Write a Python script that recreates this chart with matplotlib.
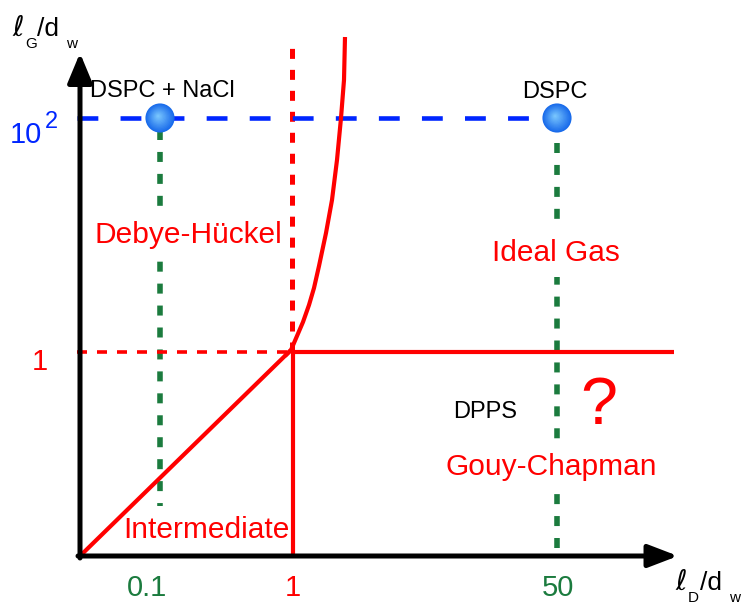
import numpy as np
import matplotlib
matplotlib.use("Agg")
import matplotlib.pyplot as plt

plt.rcParams['font.family'] = ['Liberation Sans', 'DejaVu Sans']
plt.rcParams['mathtext.fontset'] = 'dejavusans'
plt.rcParams['lines.scale_dashes'] = False

RED = '#ff0000'
BLUE = '#0026ff'
GREEN = '#1b7b3e'

# schematic positions (units ~ pixels from the origin of the diagram)
x_tick_pos = [80, 213, 478]
x_tick_labels = ['0.1', '1', '50']
x_tick_colors = [GREEN, RED, GREEN]
y_tick_pos = [204, 438]
y_tick_labels = ['1', '10']
y_tick_powers = ['', '2']
y_tick_colors = [RED, BLUE]

# phase boundaries
diag_x = [0, 211]
diag_y = [0, 206]
curve_x = [205, 211, 217, 223, 229, 234, 239, 246, 252, 257, 261, 264, 265]
curve_y = [200, 206, 220, 234, 251, 268, 290, 323, 356, 396, 438, 476, 519]
horiz_x = [213, 594]
horiz_y = [204, 204]
vert_x = [213, 213]
vert_y = [204, 0]

# experimental points
dot_names = ['DSPC + NaCl', 'DSPC']
dot_x = [80, 477]
dot_y = [438, 438]

regions = ['Debye-Hückel', 'Ideal Gas', 'Intermediate', 'Gouy-Chapman']
region_x = [108, 476, 126, 471]
region_y = [321, 303, 26, 89]

fig = plt.figure(figsize=(7.41, 6.05), dpi=100)
ax = fig.add_axes([0, 0, 1, 1])
ax.set_xlim(-80, 661)
ax.set_ylim(-49, 556)
ax.axis('off')


def axis_label(x, y, sub):
    # l_sub / d_w written piece by piece so the subscripts sit low as in the figure
    ax.text(x, y, r'$\ell$', fontsize=20, ha='left', va='baseline')
    ax.text(x + 13, y - 12, sub, fontsize=11, ha='left', va='baseline')
    ax.text(x + 25, y, '/d', fontsize=19, ha='left', va='baseline')
    ax.text(x + 54, y - 12, 'w', fontsize=11, ha='left', va='baseline')


# green guide lines below the dots
ax.plot([dot_x[0], dot_x[0]], [426, 0], color=GREEN, lw=4, dashes=(7.2, 8.6), zorder=1)
ax.plot([dot_x[1], dot_x[1]], [413, 0], color=GREEN, lw=4, dashes=(7.2, 8.6), zorder=1)

# region labels (white boxes break the guide lines)
for name, x, y in zip(regions, region_x, region_y):
    ax.text(x, y, name, color=RED, fontsize=21.5, ha='center', va='center', zorder=2,
            bbox=dict(facecolor='white', edgecolor='none', pad=7))

ax.text(405, 144, 'DPPS', color='black', fontsize=17, ha='center', va='center', zorder=2)
ax.text(519, 149, '?', color=RED, fontsize=48, ha='center', va='center', zorder=2)

# dotted reference lines at 1
ax.plot([212, 212], [204, 517], color=RED, lw=3.6, dashes=(7.2, 7.9), zorder=3)
ax.plot([-3, 212], [204, 204], color=RED, lw=2.6, dashes=(7.2, 7.2), zorder=3)

# blue dashed line at 10^2
ax.plot([-3, dot_x[1]], [dot_y[1], dot_y[1]], color=BLUE, lw=3.3, dashes=(15, 16), zorder=3)

# solid boundaries
for xs, ys in [(diag_x, diag_y), (curve_x, curve_y), (horiz_x, horiz_y), (vert_x, vert_y)]:
    ax.plot(xs, ys, color=RED, lw=3.0, solid_capstyle='butt', solid_joinstyle='round', zorder=4)

# axes with arrows
ax.annotate('', xy=(0, 503), xytext=(0, -2),
            arrowprops=dict(arrowstyle='-|>,head_length=0.6,head_width=0.25',
                            mutation_scale=30, lw=3.6, color='black', shrinkA=0, shrinkB=0),
            zorder=5)
ax.annotate('', xy=(598, 0), xytext=(-2, 0),
            arrowprops=dict(arrowstyle='-|>,head_length=0.6,head_width=0.23',
                            mutation_scale=30, lw=3.6, color='black', shrinkA=0, shrinkB=0),
            zorder=5)

# shaded blue spheres
edge = np.array([0.10, 0.42, 0.92])
centre = np.array([0.50, 0.80, 1.00])
for k in range(12):
    f = 1 - k / 12
    c = centre + (edge - centre) * f
    ax.scatter(np.array(dot_x) - 2 * (1 - f), np.array(dot_y) + 2 * (1 - f),
               s=440 * f ** 2, color=c, edgecolors='none', zorder=6)

ax.text(dot_x[0] + 2, dot_y[0] + 27, dot_names[0], fontsize=17, ha='center', va='center', zorder=6)
ax.text(dot_x[1] - 2, dot_y[1] + 26, dot_names[1], fontsize=17, ha='center', va='center', zorder=6)

# tick labels
for pos, lab, col in zip(x_tick_pos, x_tick_labels, x_tick_colors):
    ax.text(pos - (13 if lab == '0.1' else 0), -32, lab, color=col, fontsize=21, ha='center', va='center')
for pos, lab, p, col in zip(y_tick_pos, y_tick_labels, y_tick_powers, y_tick_colors):
    base = pos - (18 if p == '' else 25)
    ax.text(-40 if not p else -38, base, lab, color=col, fontsize=21,
            ha='right' if p else 'center', va='baseline')
    if p:
        ax.text(-35, base + 15, p, color=col, fontsize=17, ha='left', va='baseline')

axis_label(595, -34, 'D')
axis_label(-68, 520, 'G')

plt.savefig('out.png', dpi=100)
